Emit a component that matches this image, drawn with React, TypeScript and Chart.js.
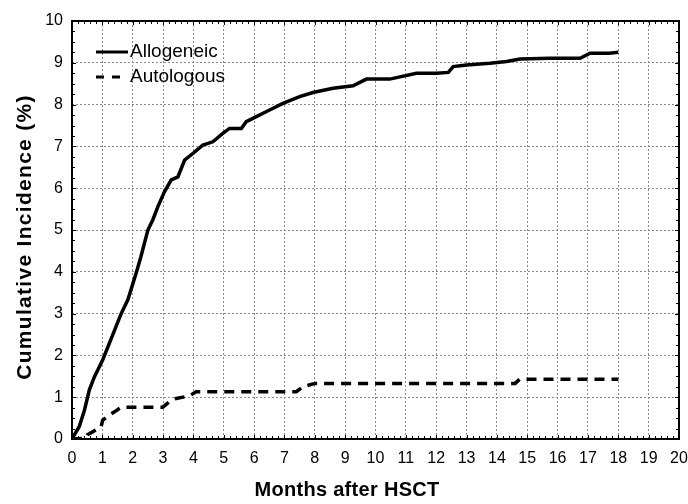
import React, { useEffect, useRef } from "react";
import { Chart, registerables } from "chart.js";

Chart.register(...registerables);

const alloMonths = [0, 0.24, 0.41, 0.57, 0.74, 1.01, 1.23, 1.62, 1.84, 2.11, 2.27, 2.5, 2.66, 2.83, 3.05, 3.27, 3.49, 3.71, 3.98, 4.31, 4.64, 4.97, 5.19, 5.58, 5.74, 5.96, 6.51, 6.95, 7.5, 7.94, 8.6, 9.26, 9.7, 10.47, 11.35, 12.01, 12.4, 12.56, 13.0, 13.77, 14.32, 14.76, 15.75, 16.74, 17.07, 17.7, 18.0];
const alloValues = [0, 0.3, 0.69, 1.17, 1.49, 1.89, 2.29, 3.0, 3.33, 3.96, 4.36, 5.0, 5.24, 5.56, 5.92, 6.2, 6.27, 6.67, 6.83, 7.03, 7.11, 7.31, 7.43, 7.43, 7.59, 7.67, 7.87, 8.03, 8.19, 8.29, 8.39, 8.45, 8.61, 8.61, 8.75, 8.75, 8.77, 8.91, 8.95, 8.99, 9.03, 9.09, 9.11, 9.11, 9.23, 9.23, 9.25];

const autoMonths = [0, 0.45, 0.51, 0.68, 0.96, 1.01, 1.23, 1.4, 1.62, 2.99, 3.21, 3.43, 3.87, 4.09, 7.39, 7.61, 8.0, 14.6, 14.75, 18.0];
const autoValues = [0, 0.02, 0.1, 0.17, 0.29, 0.45, 0.57, 0.65, 0.76, 0.76, 0.89, 0.97, 1.03, 1.13, 1.13, 1.25, 1.33, 1.33, 1.43, 1.43];

const seriesNames = ["Allogeneic", "Autologous"];
const xTitle = "Months after HSCT";
const yTitle = "Cumulative Incidence (%)";

const FONT = "'Liberation Sans', Arial, Helvetica, sans-serif";

const framePlugin = {
  id: "frameTicks",
  afterDatasetsDraw(chart: any) {
    const { ctx, chartArea, scales } = chart;
    const { left, right, top, bottom } = chartArea;
    ctx.save();
    ctx.strokeStyle = "#000";
    ctx.lineWidth = 1;
    ctx.setLineDash([]);
    ctx.beginPath();
    for (let i = 0; i <= 100; i++) {
      const v = i * 0.2;
      const px = Math.round(scales.x.getPixelForValue(v)) + 0.5;
      const len = i % 5 === 0 ? 4 : 3;
      ctx.moveTo(px, bottom);
      ctx.lineTo(px, bottom - len);
      ctx.moveTo(px, top);
      ctx.lineTo(px, top + len);
    }
    for (let i = 0; i <= 40; i++) {
      const v = i * 0.25;
      const py = Math.round(scales.y.getPixelForValue(v)) + 0.5;
      const len = i % 4 === 0 ? 4 : 3;
      ctx.moveTo(left, py);
      ctx.lineTo(left + len, py);
      ctx.moveTo(right, py);
      ctx.lineTo(right - len, py);
    }
    ctx.stroke();
    ctx.lineWidth = 2;
    ctx.strokeRect(left, top, right - left, bottom - top);
    ctx.restore();
  },
  afterDraw(chart: any) {
    const { ctx, chartArea, width } = chart;
    const x0 = chartArea.left + 24;
    const rows = [
      { y: chartArea.top + 31, dash: [] as number[], label: seriesNames[0] },
      { y: chartArea.top + 56, dash: [8, 8], label: seriesNames[1] },
    ];
    ctx.save();
    for (const r of rows) {
      ctx.strokeStyle = "#000";
      ctx.lineWidth = 3;
      ctx.setLineDash(r.dash);
      ctx.beginPath();
      ctx.moveTo(x0, r.y);
      ctx.lineTo(x0 + 32, r.y);
      ctx.stroke();
      ctx.setLineDash([]);
      ctx.fillStyle = "#000";
      ctx.font = `19px ${FONT}`;
      ctx.textBaseline = "middle";
      ctx.textAlign = "left";
      ctx.fillText(r.label, x0 + 34, r.y);
    }
    // axis titles
    ctx.fillStyle = "#000";
    ctx.textAlign = "center";
    ctx.textBaseline = "middle";
    ctx.font = `bold 20px ${FONT}`;
    (ctx as any).letterSpacing = "0.3px";
    ctx.fillText(xTitle, width / 2 + 3, 490);
    ctx.translate(25, (chartArea.top + chartArea.bottom) / 2 + 7);
    ctx.rotate(-Math.PI / 2);
    ctx.font = `bold 21px ${FONT}`;
    (ctx as any).letterSpacing = "1.3px";
    ctx.fillText(yTitle, 0, 0);
    ctx.restore();
  },
};

export default function App() {
  const ref = useRef<HTMLCanvasElement | null>(null);
  useEffect(() => {
    if (!ref.current) return;
    Chart.defaults.font.family = FONT;
    Chart.defaults.color = "#000";
    const chart = new Chart(ref.current, {
      type: "line",
      data: {
        datasets: [
          {
            label: seriesNames[0],
            data: alloMonths.map((m, i) => ({ x: m, y: alloValues[i] })),
            borderColor: "#000",
            borderWidth: 3.5,
            pointRadius: 0,
            fill: false,
            tension: 0,
          },
          {
            label: seriesNames[1],
            data: autoMonths.map((m, i) => ({ x: m, y: autoValues[i] })),
            borderColor: "#000",
            borderWidth: 3.5,
            borderDash: [10, 7],
            pointRadius: 0,
            fill: false,
            tension: 0,
          },
        ],
      },
      options: {
        animation: false,
        responsive: true,
        maintainAspectRatio: false,
        layout: { padding: { left: 0, right: 0, top: 21, bottom: 0 } },
        plugins: { legend: { display: false }, tooltip: { enabled: false } },
        scales: {
          x: {
            type: "linear",
            min: 0,
            max: 20,
            afterFit: (s: any) => { s.height = 65; s.paddingRight = 9; },
            ticks: { stepSize: 1, padding: 10, font: { size: 16 }, color: "#000", maxRotation: 0, autoSkip: false },
            grid: { color: "#8a8a8a", lineWidth: 1, drawTicks: false },
            border: { display: false, dash: [2, 2] },
            title: { display: false, text: xTitle },
          },
          y: {
            type: "linear",
            min: 0,
            max: 10,
            afterFit: (s: any) => { s.width = 72; },
            ticks: { stepSize: 1, padding: 9, font: { size: 16 }, color: "#000" },
            grid: { color: "#8a8a8a", lineWidth: 1, drawTicks: false },
            border: { display: false, dash: [2, 2] },
            title: { display: false, text: yTitle },
          },
        },
      },
      plugins: [framePlugin],
    });
    return () => chart.destroy();
  }, []);
  return (
    <div style={{ position: "fixed", left: 0, top: 0, width: 688, height: 504, background: "#fff" }}>
      <canvas ref={ref} />
    </div>
  );
}
